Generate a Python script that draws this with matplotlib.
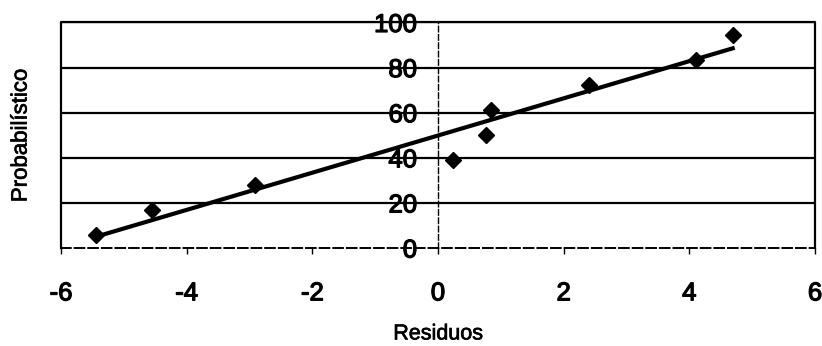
import numpy as np
import matplotlib
matplotlib.use("Agg")
import matplotlib.pyplot as plt
from matplotlib.lines import Line2D
import matplotlib.patheffects as pe

plt.rcParams['font.family'] = ['Liberation Sans', 'DejaVu Sans']

# Residuals vs. normal-plot probability (%)
residuos = [-5.44, -4.55, -2.92, 0.235, 0.766, 0.846, 2.40, 4.10, 4.69]
probabilistico = [5.56, 16.67, 27.78, 38.89, 50.0, 61.11, 72.22, 83.33, 94.44]
x_ticks = [-6, -4, -2, 0, 2, 4, 6]
y_ticks = [0, 20, 40, 60, 80, 100]

fig = plt.figure(figsize=(8.22, 3.46), dpi=100)
ax = fig.add_axes([0.0742, 0.2832, 0.9173, 0.6518])

ax.set_xlim(x_ticks[0], x_ticks[-1])
ax.set_ylim(y_ticks[0], y_ticks[-1])
ax.set_xticks(x_ticks)
ax.set_yticks(y_ticks)
ax.set_xticklabels([str(v) for v in x_ticks])
ax.set_yticklabels([str(v) for v in y_ticks])

# horizontal gridlines (the one at 0 is the dashed x axis)
for yv in y_ticks[1:]:
    ax.axhline(yv, color='black', lw=1.6, zorder=1)

# frame: left, top and right borders solid
ax.add_line(Line2D([0, 0, 1, 1], [0, 1, 1, 0], transform=ax.transAxes,
                   color='black', lw=1.6, zorder=2, clip_on=False))

for s in ['top', 'right']:
    ax.spines[s].set_visible(False)
ax.spines['left'].set_position(('data', 0))
ax.spines['left'].set_linestyle((0, (4, 2)))
ax.spines['left'].set_linewidth(1.0)
ax.spines['bottom'].set_linestyle((0, (5, 2)))
ax.spines['bottom'].set_linewidth(1.4)

ax.tick_params(axis='x', direction='out', length=4, width=1, pad=20,
               labelsize=18.5, colors='black')
ax.tick_params(axis='y', length=0, pad=15, labelsize=18.5, colors='black')

thick = [pe.withStroke(linewidth=0.9, foreground='black')]
for lab in ax.get_xticklabels() + ax.get_yticklabels():
    lab.set_path_effects(thick)

# linear trend line over the data range
b, a = np.polyfit(residuos, probabilistico, 1)
xs = np.array([min(residuos), max(residuos)])
ax.plot(xs, a + b * xs, color='black', lw=3, zorder=3)

ax.plot(residuos, probabilistico, linestyle='none', marker='D', ms=8.5,
        color='black', zorder=4, clip_on=False)

thin = [pe.withStroke(linewidth=0.5, foreground='black')]
ax.set_xlabel('Residuos', fontsize=15.5, labelpad=13, path_effects=thin)
ax.set_ylabel('Probabilístico', fontsize=16, path_effects=thin)
ax.yaxis.set_label_coords(-0.039, 0.5)

fig.savefig('out.png', dpi=100)
